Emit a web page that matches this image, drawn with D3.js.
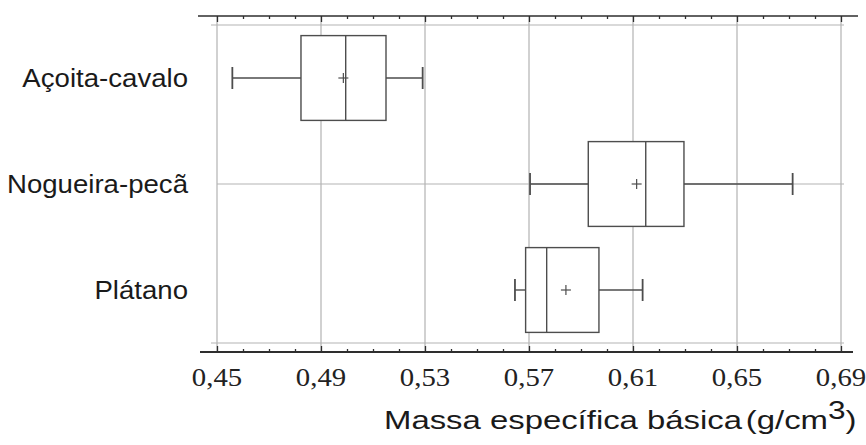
<!DOCTYPE html>
<html>
<head>
<meta charset="utf-8">
<script src="https://cdn.jsdelivr.net/npm/d3@7"></script>
<style>
  html, body { margin: 0; padding: 0; background: #fff; }
  svg { display: block; }
</style>
</head>
<body>
<svg id="chart" width="866" height="445"></svg>
<script>
// Basic specific gravity (g/cm3) of three wood species
const categories   = ["Açoita-cavalo", "Nogueira-pecã", "Plátano"];
const whiskerLow   = [0.4559, 0.5704, 0.5646];
const quartile1    = [0.4823, 0.5928, 0.5687];
const medians      = [0.4995, 0.6149, 0.5768];
const quartile3    = [0.5150, 0.6296, 0.5969];
const whiskerHigh  = [0.5291, 0.6714, 0.6137];
const means        = [0.4986, 0.6114, 0.5842];
const tickValues   = [0.45, 0.49, 0.53, 0.57, 0.61, 0.65, 0.69];
const tickLabels   = ["0,45", "0,49", "0,53", "0,57", "0,61", "0,65", "0,69"];
const minorTicks   = d3.range(45, 70).map(v => v / 100);
const axisTitle    = "Massa específica básica";
const axisUnit     = ["(g/cm", "3", ")"];

const svg = d3.select("#chart");
const stretch = 1.15;   // wide lettering

const x = d3.scaleLinear().domain([0.45, 0.69]).range([217, 841]);
const y = d3.scaleBand().domain(categories).range([25, 343])
  .paddingInner(0.2).paddingOuter(0.1);

const gridColor = "#b3b3b3";
const boxColor = "#4d4d4d";
const axisColor = "#2e2e2e";

// vertical grid lines
svg.append("g").selectAll("line").data(tickValues).join("line")
  .attr("x1", d => x(d)).attr("x2", d => x(d))
  .attr("y1", 16).attr("y2", 352)
  .attr("stroke", gridColor).attr("stroke-width", 1.2);

// inner frame lines
svg.append("line").attr("x1", 211).attr("x2", 844).attr("y1", 25).attr("y2", 25)
  .attr("stroke", gridColor).attr("stroke-width", 1.2);
svg.append("line").attr("x1", 211).attr("x2", 844).attr("y1", 343).attr("y2", 343)
  .attr("stroke", gridColor).attr("stroke-width", 1.2);

// horizontal reference line through the middle species
const midCat = categories[1];
svg.append("line")
  .attr("x1", x(0.45)).attr("x2", 844)
  .attr("y1", y(midCat) + y.bandwidth() / 2).attr("y2", y(midCat) + y.bandwidth() / 2)
  .attr("stroke", gridColor).attr("stroke-width", 1.2);

// axes (top and bottom) with minor ticks
const topAxis = d3.axisBottom(x).tickValues(minorTicks).tickSize(3).tickFormat("");
const topG = svg.append("g").attr("transform", "translate(0,16)").call(topAxis);
const botAxis = d3.axisTop(x).tickValues(minorTicks).tickSize(3).tickFormat("");
const botG = svg.append("g").attr("transform", "translate(0,352)").call(botAxis);
[topG, botG].forEach(g => {
  g.select(".domain").remove();
  g.selectAll(".tick line").attr("stroke", axisColor).attr("stroke-width", 1.3);
});
topG.selectAll(".tick line").filter(d => tickValues.some(t => Math.abs(t - d) < 1e-9)).attr("y2", 6);
botG.selectAll(".tick line").filter(d => tickValues.some(t => Math.abs(t - d) < 1e-9)).attr("y2", -6);
svg.append("line").attr("x1", 198).attr("x2", 858).attr("y1", 16).attr("y2", 16)
  .attr("stroke", axisColor).attr("stroke-width", 1.6);
svg.append("line").attr("x1", 200).attr("x2", 853).attr("y1", 352).attr("y2", 352)
  .attr("stroke", axisColor).attr("stroke-width", 1.8);

// tick labels
svg.append("g").selectAll("text").data(tickValues).join("text")
  .attr("transform", d => `translate(${x(d)},386) scale(${stretch},1)`)
  .attr("text-anchor", "middle")
  .attr("font-family", "'Liberation Serif', 'Times New Roman', serif")
  .attr("font-size", 25).attr("fill", "#222")
  .text((d, i) => tickLabels[i]);

// category labels
svg.append("g").selectAll("text").data(categories).join("text")
  .attr("transform", d => `translate(${188},${y(d) + y.bandwidth() / 2 + 9}) scale(${stretch * 0.96},1)`)
  .attr("text-anchor", "end")
  .attr("font-family", "'Liberation Sans', Arial, sans-serif")
  .attr("font-size", 25).attr("fill", "#1a1a1a")
  .text(d => d);

// box plots
const rows = categories.map((c, i) => ({
  c, lo: whiskerLow[i], q1: quartile1[i], med: medians[i],
  q3: quartile3[i], hi: whiskerHigh[i], mean: means[i]
}));
const bw = y.bandwidth();
const g = svg.append("g").attr("stroke", boxColor).attr("stroke-width", 1.4).attr("fill", "none");
rows.forEach(r => {
  const top = y(r.c), cy = top + bw / 2, cap = bw * 0.13;
  g.append("line").attr("x1", x(r.lo)).attr("x2", x(r.q1)).attr("y1", cy).attr("y2", cy);
  g.append("line").attr("x1", x(r.q3)).attr("x2", x(r.hi)).attr("y1", cy).attr("y2", cy);
  g.append("line").attr("x1", x(r.lo)).attr("x2", x(r.lo)).attr("y1", cy - cap).attr("y2", cy + cap).attr("stroke-width", 1.8);
  g.append("line").attr("x1", x(r.hi)).attr("x2", x(r.hi)).attr("y1", cy - cap).attr("y2", cy + cap).attr("stroke-width", 1.8);
  g.append("rect").attr("x", x(r.q1)).attr("y", top)
    .attr("width", x(r.q3) - x(r.q1)).attr("height", bw).attr("fill", "#fff");
  g.append("line").attr("x1", x(r.med)).attr("x2", x(r.med)).attr("y1", top).attr("y2", top + bw);
  g.append("line").attr("x1", x(r.mean) - 5).attr("x2", x(r.mean) + 5).attr("y1", cy).attr("y2", cy).attr("stroke-width", 1.2);
  g.append("line").attr("x1", x(r.mean)).attr("x2", x(r.mean)).attr("y1", cy - 5).attr("y2", cy + 5).attr("stroke-width", 1.2);
});

// axis title
const title = svg.append("text")
  .attr("font-family", "'Liberation Sans', Arial, sans-serif")
  .attr("font-size", 26).attr("fill", "#1a1a1a")
  .attr("x", 0).attr("y", 0);
title.append("tspan").text(axisTitle);
title.append("tspan").attr("dx", 3).text(axisUnit[0]);
title.append("tspan").attr("font-size", 25).attr("dy", -10).text(axisUnit[1]);
title.append("tspan").attr("dy", 10).text(axisUnit[2]);
const tw = title.node().getComputedTextLength();
const targetW = 853 - 384;
title.attr("transform", `translate(384,429) scale(${targetW / tw},1)`);
</script>
</body>
</html>
